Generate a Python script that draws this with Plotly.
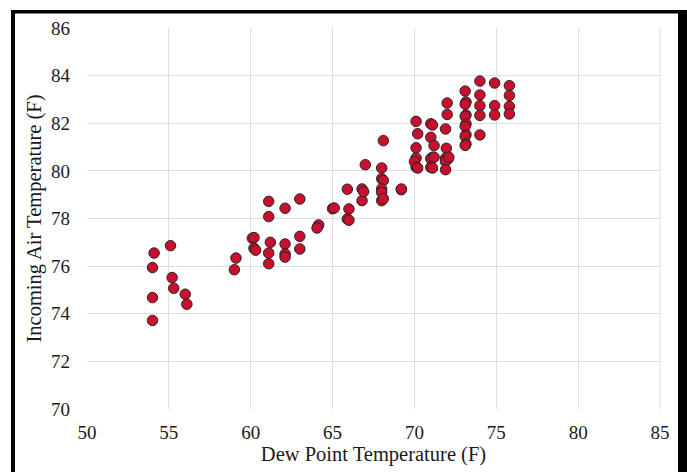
import plotly.graph_objects as go

dew_point = [54.0, 54.0, 54.0, 54.1, 55.1, 55.2, 55.3, 56.0, 56.1,
             59.0, 59.1, 60.1, 60.2, 60.2, 60.3,
             61.1, 61.1, 61.2, 61.1, 61.1,
             62.1, 62.1, 62.1, 62.1,
             63.0, 63.0, 63.0,
             64.1, 64.15, 64.05, 65.0, 65.1,
             65.9, 66.0, 65.9, 66.0,
             66.8, 66.8, 66.9, 67.0,
             68.0, 68.0, 68.1, 68.0, 68.0, 68.0, 68.1, 68.1,
             69.2, 69.2,
             70.1, 70.2, 70.1, 70.1, 70.0, 70.1, 70.2,
             71.0, 71.1, 71.0, 71.2, 71.1, 71.0, 71.2, 71.0, 71.1,
             72.0, 72.0, 71.9, 71.95, 71.9, 72.05, 71.9, 71.9, 72.1,
             73.1, 73.15, 73.1, 73.15, 73.1, 73.15, 73.1, 73.15, 73.1, 73.15, 73.1,
             74.0, 74.0, 74.0, 74.0, 74.0,
             74.9, 74.9, 74.9,
             75.8, 75.8, 75.8, 75.8]

air_temp = [73.72, 74.68, 75.94, 76.55, 76.86, 75.52, 75.07, 74.82, 74.4,
            75.85, 76.34, 77.17, 77.2, 76.75, 76.67,
            78.72, 78.08, 77.0, 76.55, 76.1,
            78.43, 76.93, 76.51, 76.38,
            78.82, 77.25, 76.72,
            77.67, 77.73, 77.6, 78.41, 78.44,
            79.23, 78.4, 77.98, 77.93,
            78.75, 79.24, 79.13, 80.26,
            80.12, 79.67, 79.6, 79.24, 79.1, 78.75, 78.83, 81.27,
            79.21, 79.24,
            82.08, 81.56, 80.97, 80.54, 80.39, 80.16, 80.12,
            81.98, 81.93, 81.41, 81.06, 80.57, 80.51, 80.57, 80.15, 80.12,
            82.85, 82.37, 81.76, 80.95, 80.53, 80.5, 80.39, 80.05, 80.57,
            83.35, 82.89, 82.8, 82.35, 82.29, 81.97, 81.87, 81.52, 81.45, 81.13, 81.07,
            83.77, 83.19, 82.74, 82.33, 81.51,
            83.69, 82.74, 82.35,
            83.58, 83.17, 82.71, 82.39]

x_ticks = [50, 55, 60, 65, 70, 75, 80, 85]
y_ticks = [70, 72, 74, 76, 78, 80, 82, 84, 86]

W, H = 687, 472
L, R, T, B = 87, 27, 28, 63
pw, ph = W - L - R, H - T - B

def px_x(p):
    return (p - L) / pw

def px_y(p):
    return (H - B - p) / ph

font_family = "Liberation Serif, Times New Roman, serif"

fig = go.Figure()
fig.add_trace(go.Scatter(
    x=dew_point, y=air_temp, mode="markers",
    marker=dict(size=10.5, color="#C8102E", line=dict(color="#262626", width=1)),
    showlegend=False,
))

grid = "#dedede"
border = dict(color="black", width=4)
fig.update_layout(
    width=W, height=H,
    margin=dict(l=L, r=R, t=T, b=B, autoexpand=False),
    paper_bgcolor="white", plot_bgcolor="white",
    font=dict(family=font_family, color="#1a1a1a", size=19),
    xaxis=dict(range=[50, 85], tickvals=x_ticks, showgrid=True, gridcolor=grid,
               gridwidth=1, zeroline=False, showline=False, ticks="",
               ticklabelstandoff=10, automargin=False,
               title=dict(text="Dew Point Temperature (F)", font=dict(size=20.5), standoff=4)),
    yaxis=dict(range=[70, 86], tickvals=y_ticks, showgrid=True, gridcolor=grid,
               gridwidth=1, zeroline=False, showline=False, ticks="",
               ticklabelstandoff=16, automargin=False,
               title=dict(text="Incoming Air Temperature (F)", font=dict(size=20.5), standoff=3)),
    shapes=[
        dict(type="line", xref="paper", yref="paper",
             x0=px_x(660), x1=px_x(660), y0=0, y1=1,
             line=dict(color=grid, width=1)),
        dict(type="line", xref="paper", yref="paper",
             x0=px_x(13), x1=px_x(13), y0=px_y(10), y1=px_y(480), line=border),
        dict(type="line", xref="paper", yref="paper",
             x0=px_x(11), x1=px_x(690), y0=px_y(11.7), y1=px_y(11.7),
             line=dict(color="black", width=3.5)),
        dict(type="line", xref="paper", yref="paper",
             x0=px_x(683), x1=px_x(683), y0=px_y(10), y1=px_y(480),
             line=dict(color="black", width=10)),
    ],
)

fig.write_html("out.html")
